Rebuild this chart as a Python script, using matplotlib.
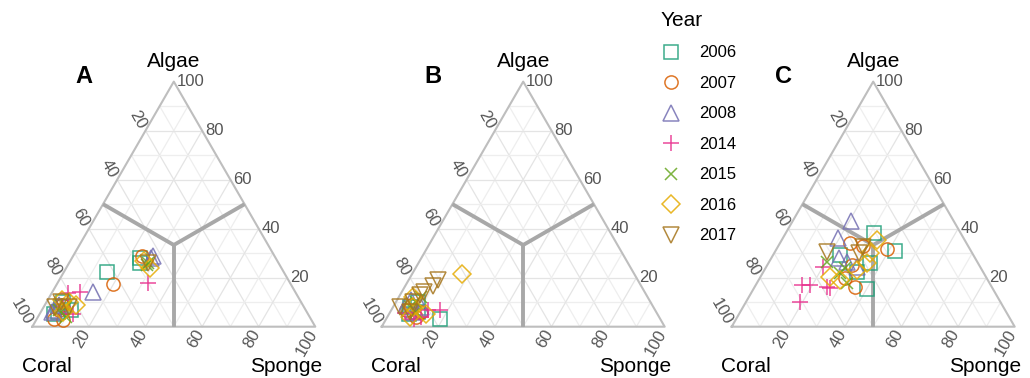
import numpy as np
import matplotlib
matplotlib.use("Agg")
import matplotlib.pyplot as plt
from matplotlib.lines import Line2D

plt.rcParams['font.family'] = ['Liberation Sans', 'DejaVu Sans']

YEARS = [2006, 2007, 2008, 2014, 2015, 2016, 2017]
COLORS = ["#1B9E77", "#D95F02", "#7570B3", "#E7298A", "#66A61E", "#E6AB02", "#A6761D"]
MARKERS = ["s", "o", "^", "+", "x", "D", "v"]
MSIZES = [9.5, 9.5, 12, 11, 9, 9, 12]
TICKS = [20, 40, 60, 80, 100]
PANELS = ["A", "B", "C"]

# (coral, algae, sponge) in percent
PANEL_A = {
    2006: [(86, 8, 6), (90, 5, 5), (84, 10, 6), (88, 6, 6), (83, 7, 10),
           (62.6, 22.2, 15.2), (49, 26, 25), (48, 28, 24)],
    2007: [(91, 3, 6), (87.7, 2.7, 9.6), (85, 9, 6), (87, 7, 6),
           (62.7, 17.3, 20), (46.7, 28.9, 24.4)],
    2008: [(89, 7, 4), (90, 6, 4), (86, 9, 5), (71.4, 14, 14.6),
           (43, 29, 28), (44, 28, 28)],
    2014: [(80.5, 13.6, 5.9), (76, 14, 10), (85, 8, 7), (83, 5, 12), (50, 18, 32)],
    2015: [(87, 7, 6), (84, 8, 8), (86, 4, 10), (47, 25, 28), (46, 26, 28)],
    2016: [(82, 10, 8), (86, 6, 8), (84, 11, 5), (80, 9, 11),
           (46.5, 23.8, 29.7), (47, 27, 26)],
    2017: [(85, 10, 5), (88, 8, 4), (83, 8, 9), (46, 26, 28)],
}
PANEL_B = {
    2006: [(86, 8, 6), (84, 6, 10), (88, 5, 7), (82, 10, 8), (77.9, 3, 19.1)],
    2007: [(85, 9, 6), (88, 7, 5), (83, 6, 11), (86, 4, 10)],
    2008: [(84, 11, 5), (87, 9, 4), (82, 8, 10), (86, 6, 8)],
    2014: [(89, 5.5, 5.5), (76, 6.8, 17.2), (84, 4, 12), (87, 3, 10), (80, 7, 13)],
    2015: [(83, 10, 7), (86, 8, 6), (80, 12, 8), (85, 6, 9)],
    2016: [(60.8, 21.5, 17.7), (85, 8, 7), (88, 4, 8), (82, 5, 13), (83, 12, 5)],
    2017: [(70.7, 19.1, 10.2), (73.5, 16.6, 9.9), (89.4, 8.2, 2.4), (80, 13, 7),
           (84, 10, 6), (87, 6, 7), (78, 14, 8)],
}
PANEL_C = {
    2006: [(30.6, 38.1, 31.3), (26.8, 31, 42.2), (44.4, 15.3, 40.3),
           (47.1, 29.3, 23.6), (44.7, 22.4, 32.9), (38, 26, 36)],
    2007: [(29.2, 31.6, 39.2), (48.3, 16.3, 35.4), (41.2, 34, 24.8),
           (37, 33, 30), (50, 20, 30), (45, 25, 30)],
    2008: [(36.3, 43.3, 20.4), (44.3, 36.1, 19.6), (46.1, 26.5, 27.4),
           (43.6, 24.5, 31.9), (48, 28, 24)],
    2014: [(63.8, 17, 19.2), (66.8, 17, 16.2), (57.4, 15.7, 26.9),
           (70.8, 10.2, 19), (58.3, 16.3, 25.4), (55.4, 24.5, 20.1)],
    2015: [(53.2, 26.5, 20.3), (50.8, 21.8, 27.4), (50.5, 17.7, 31.8), (48, 24, 28)],
    2016: [(52.2, 19.1, 28.7), (39.3, 25.9, 34.8), (31.1, 35.4, 33.5),
           (55.1, 20.4, 24.5), (44.3, 23.1, 32.6), (36, 30, 34)],
    2017: [(51.1, 30.6, 18.3), (37.1, 32.7, 30.2), (40, 30, 30)],
}

# layout in pixels
FIG_W, FIG_H = 1030, 378
TRI_W = 283.0
BASE_Y = 326.7
LEFT_X = [32.3, 381.7, 731.7]
AX_SPAN = [(0, 345), (345, 690), (690, 1030)]
H = np.sqrt(3) / 2


def tern(c, a, s):
    c, a, s = np.asarray(c, float), np.asarray(a, float), np.asarray(s, float)
    tot = c + a + s
    return (s + 0.5 * a) / tot, H * a / tot


def px(v):
    return v / TRI_W


def draw_frame(ax):
    # grid
    for k in range(10, 100, 10):
        f = k / 100.
        col = "#E4E4E4" if k % 20 == 0 else "#EEEEEE"
        segs = [((f, 1 - f, 0), (f, 0, 1 - f)),
                ((1 - f, f, 0), (0, f, 1 - f)),
                ((0, 1 - f, f), (1 - f, 0, f))]
        for p, q in segs:
            x, y = tern([p[0], q[0]], [p[1], q[1]], [p[2], q[2]])
            ax.plot(x, y, color=col, lw=0.9, zorder=1)
    # outline
    x, y = tern([100, 0, 0, 100], [0, 100, 0, 0], [0, 0, 100, 0])
    ax.plot(x, y, color="#BEBEBE", lw=1.5, zorder=2)
    # dominance lines
    cx, cy = tern(1, 1, 1)
    for mid in [(1, 1, 0), (1, 0, 1), (0, 1, 1)]:
        mx, my = tern(*mid)
        ax.plot([cx, mx], [cy, my], color="#A8A8A8", lw=2.8, zorder=2,
                solid_capstyle="butt")
    # tick labels
    tk = dict(fontsize=12, color="#555555")
    for t in TICKS:
        f = t / 100.
        # algae, right edge
        x, y = tern(0, f, 1 - f)
        ax.text(x + px(3), y, str(t), ha="left", va="center", **tk)
        # coral, left edge
        x, y = tern(f, 1 - f, 0)
        ax.text(x - px(3.5), y + px(2.5), str(t), ha="right", va="center",
                rotation=-60, rotation_mode="anchor", **tk)
        # sponge, bottom edge
        x, y = tern(1 - f, 0, f)
        ax.text(x - px(2), y - px(4), str(t), ha="right", va="center",
                rotation=60, rotation_mode="anchor", **tk)
    vt = dict(fontsize=15, color="black")
    ax.text(0.5, H + px(20), "Algae", ha="center", va="center", **vt)
    ax.text(-px(10.6), -px(40), "Coral", ha="left", va="center", **vt)
    ax.text(1 + px(6.4), -px(40), "Sponge", ha="right", va="center", **vt)


fig = plt.figure(figsize=(FIG_W / 100, FIG_H / 100), dpi=100)

for i, (letter, data) in enumerate(zip(PANELS, [PANEL_A, PANEL_B, PANEL_C])):
    l, r = AX_SPAN[i]
    ax = fig.add_axes([l / FIG_W, 0, (r - l) / FIG_W, 1])
    ax.set_xlim((l - LEFT_X[i]) / TRI_W, (r - LEFT_X[i]) / TRI_W)
    ax.set_ylim(-(FIG_H - BASE_Y) / TRI_W, BASE_Y / TRI_W)
    ax.axis("off")
    draw_frame(ax)
    for yr, col, mk, ms in zip(YEARS, COLORS, MARKERS, MSIZES):
        pts = np.array(data[yr])
        x, y = tern(pts[:, 0], pts[:, 1], pts[:, 2])
        ax.plot(x, y, ls="none", marker=mk, ms=ms, mfc="none", mec=col,
                mew=1.1, alpha=0.85, zorder=3)
    ax.text(0.5 - px(90), H + px(5), letter, ha="center", va="center",
            fontsize=17, fontweight="bold")

handles = [Line2D([], [], ls="none", marker=mk, ms=ms, mfc="none", mec=col,
                  mew=1.1, alpha=0.85)
           for col, mk, ms in zip(COLORS, MARKERS, MSIZES)]
leg = fig.legend(handles, [str(y) for y in YEARS], title="Year",
                 loc="upper left", bbox_to_anchor=(646 / FIG_W, 1 + 4 / FIG_H),
                 frameon=False, fontsize=12, title_fontsize=15,
                 labelspacing=0.93, handlelength=1.2, handletextpad=1.1,
                 alignment="left")

fig.savefig("out.png", dpi=100)
